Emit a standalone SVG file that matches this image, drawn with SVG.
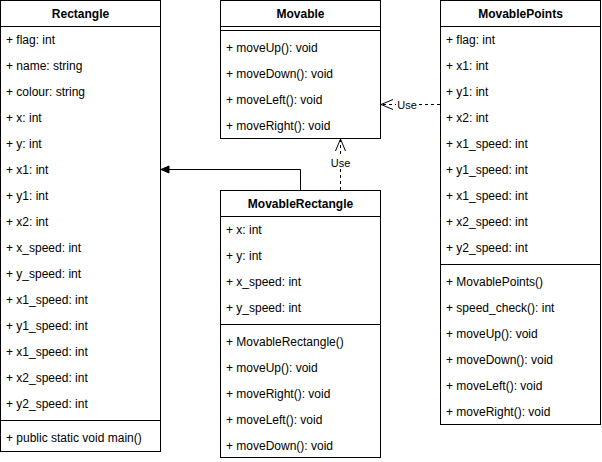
<svg xmlns="http://www.w3.org/2000/svg" width="602" height="462" viewBox="0 0 602 462">
<style>
.box{fill:#fff;stroke:#000;stroke-width:1}
.ln{stroke:#000;stroke-width:1;fill:none}
.t{font-family:"Liberation Sans",Arial,Helvetica,sans-serif;font-size:12px;fill:#000}
.h{font-family:"Liberation Sans",Arial,Helvetica,sans-serif;font-size:12px;font-weight:bold;fill:#000;text-anchor:middle}
.lbl{font-family:"Liberation Sans",Arial,Helvetica,sans-serif;font-size:11px;fill:#000;text-anchor:middle}
.dash{stroke:#000;stroke-width:1;fill:none;stroke-dasharray:3 3}
</style>
<defs>
<marker id="block" markerUnits="userSpaceOnUse" markerWidth="10" markerHeight="9" refX="8" refY="3.5" orient="auto" overflow="visible">
<path d="M0,0 L8,3.5 L0,7 Z" fill="#000" stroke="#000" stroke-width="1"/>
</marker>
<marker id="open" markerUnits="userSpaceOnUse" markerWidth="14" markerHeight="12" refX="12" refY="5" orient="auto" overflow="visible">
<path d="M0,0 L12,5 L0,10" fill="none" stroke="#000" stroke-width="1"/>
</marker>
</defs>

<g id="connectors">
<path class="ln" d="M300.5,190 V169.5 H161" marker-end="url(#block)"/>
<path class="dash" d="M340.5,190 V139" marker-end="url(#open)"/>
<rect x="330" y="156" width="21" height="13" fill="#fff"/>
<text class="lbl" x="340.5" y="167">Use</text>
<path class="dash" d="M440,104.5 H381" marker-end="url(#open)"/>
<rect x="396" y="98" width="22" height="13" fill="#fff"/>
<text class="lbl" x="407" y="108.5">Use</text>
</g>

<g id="Rectangle">
<rect class="box" x="0.5" y="0.5" width="160" height="451"/>
<line class="ln" x1="0.5" y1="26.5" x2="160.5" y2="26.5"/>
<line class="ln" x1="0.5" y1="420.5" x2="160.5" y2="420.5"/>
<text class="h" x="80.5" y="18">Rectangle</text>
<text class="t" x="6" y="44">+ flag: int</text>
<text class="t" x="6" y="70">+ name: string</text>
<text class="t" x="6" y="96">+ colour: string</text>
<text class="t" x="6" y="122">+ x: int</text>
<text class="t" x="6" y="148">+ y: int</text>
<text class="t" x="6" y="174">+ x1: int</text>
<text class="t" x="6" y="200">+ y1: int</text>
<text class="t" x="6" y="226">+ x2: int</text>
<text class="t" x="6" y="252">+ x_speed: int</text>
<text class="t" x="6" y="278">+ y_speed: int</text>
<text class="t" x="6" y="304">+ x1_speed: int</text>
<text class="t" x="6" y="330">+ y1_speed: int</text>
<text class="t" x="6" y="356">+ x1_speed: int</text>
<text class="t" x="6" y="382">+ x2_speed: int</text>
<text class="t" x="6" y="408">+ y2_speed: int</text>
<text class="t" x="6" y="442">+ public static void main()</text>
</g>

<g id="Movable">
<rect class="box" x="220.5" y="0.5" width="160" height="138"/>
<line class="ln" x1="220.5" y1="26.5" x2="380.5" y2="26.5"/>
<line class="ln" x1="220.5" y1="30.5" x2="380.5" y2="30.5"/>
<text class="h" x="300.5" y="18">Movable</text>
<text class="t" x="226" y="52">+ moveUp(): void</text>
<text class="t" x="226" y="78">+ moveDown(): void</text>
<text class="t" x="226" y="104">+ moveLeft(): void</text>
<text class="t" x="226" y="130">+ moveRight(): void</text>
</g>

<g id="MovablePoints">
<rect class="box" x="440.5" y="0.5" width="160" height="424"/>
<line class="ln" x1="440.5" y1="26.5" x2="600.5" y2="26.5"/>
<line class="ln" x1="440.5" y1="264.5" x2="600.5" y2="264.5"/>
<text class="h" x="520.5" y="18">MovablePoints</text>
<text class="t" x="446" y="44">+ flag: int</text>
<text class="t" x="446" y="70">+ x1: int</text>
<text class="t" x="446" y="96">+ y1: int</text>
<text class="t" x="446" y="122">+ x2: int</text>
<text class="t" x="446" y="148">+ x1_speed: int</text>
<text class="t" x="446" y="174">+ y1_speed: int</text>
<text class="t" x="446" y="200">+ x1_speed: int</text>
<text class="t" x="446" y="226">+ x2_speed: int</text>
<text class="t" x="446" y="252">+ y2_speed: int</text>
<text class="t" x="446" y="286">+ MovablePoints()</text>
<text class="t" x="446" y="312">+ speed_check(): int</text>
<text class="t" x="446" y="338">+ moveUp(): void</text>
<text class="t" x="446" y="364">+ moveDown(): void</text>
<text class="t" x="446" y="390">+ moveLeft(): void</text>
<text class="t" x="446" y="416">+ moveRight(): void</text>
</g>

<g id="MovableRectangle">
<rect class="box" x="220.5" y="190.5" width="160" height="267"/>
<line class="ln" x1="220.5" y1="216.5" x2="380.5" y2="216.5"/>
<line class="ln" x1="220.5" y1="324.5" x2="380.5" y2="324.5"/>
<text class="h" x="300.5" y="208">MovableRectangle</text>
<text class="t" x="226" y="234">+ x: int</text>
<text class="t" x="226" y="260">+ y: int</text>
<text class="t" x="226" y="286">+ x_speed: int</text>
<text class="t" x="226" y="312">+ y_speed: int</text>
<text class="t" x="226" y="346">+ MovableRectangle()</text>
<text class="t" x="226" y="372">+ moveUp(): void</text>
<text class="t" x="226" y="398">+ moveRight(): void</text>
<text class="t" x="226" y="424">+ moveLeft(): void</text>
<text class="t" x="226" y="450">+ moveDown(): void</text>
</g>
</svg>
